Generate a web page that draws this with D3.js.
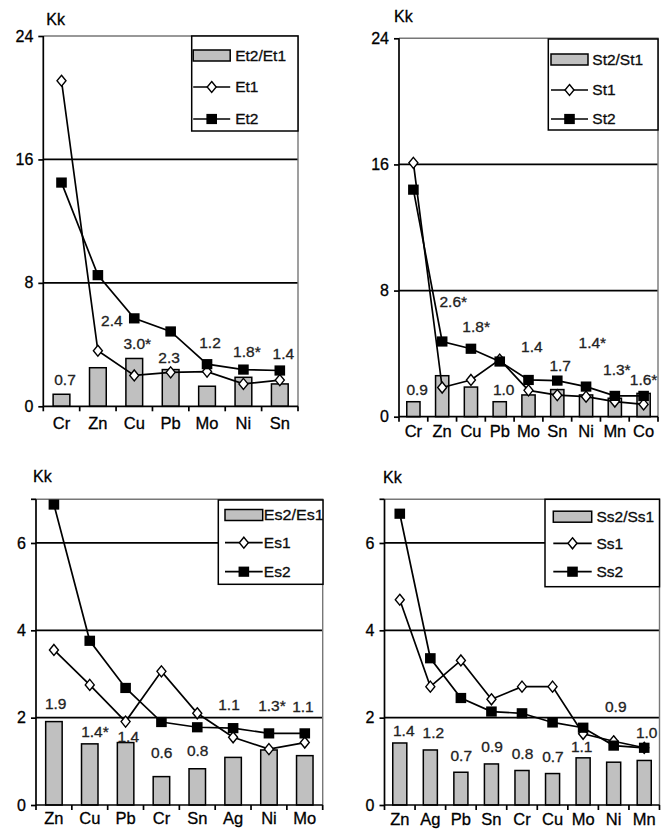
<!DOCTYPE html>
<html><head><meta charset="utf-8">
<script src="https://cdn.jsdelivr.net/npm/d3@7"></script>
<style>
body{margin:0;background:#fff}
svg{display:block}
text{font-family:"Liberation Sans",Arial,Helvetica,sans-serif;stroke:#000;stroke-width:0.3px}
</style>
</head><body>
<svg id="c" width="670" height="829"></svg>
<script>
// ---------- DATA ----------
// Panel 1 (top-left)
const p1Categories = ["Cr","Zn","Cu","Pb","Mo","Ni","Sn"];
const p1Ratio = [0.78, 2.5, 3.1, 2.38, 1.3, 1.88, 1.45];
const p1Series1 = [21.1, 3.6, 2.0, 2.2, 2.25, 1.45, 1.7];
const p1Series2 = [14.5, 8.5, 5.7, 4.85, 2.73, 2.38, 2.32];
const p1Labels = ["0.7","2.4","3.0*","2.3","1.2","1.8*","1.4"];
const p1LabelLevels = [1.71, 5.56, 4.09, 3.18, 4.13, 3.55, 3.44];
const p1Names = ["Et2/Et1","Et1","Et2"];
const p1Ticks = [0, 8, 16, 24];

// Panel 2 (top-right)
const p2Categories = ["Cr","Zn","Cu","Pb","Mo","Sn","Ni","Mn","Co"];
const p2Ratio = [0.95, 2.6, 1.88, 0.95, 1.38, 1.72, 1.38, 1.17, 1.48];
const p2Series1 = [16.1, 1.85, 2.33, 3.62, 1.67, 1.37, 1.27, 0.96, 0.78];
const p2Series2 = [14.4, 4.77, 4.31, 3.5, 2.33, 2.29, 1.91, 1.32, 1.32];
const p2Labels = ["0.9","2.6*","1.8*","1.0","1.4","1.7","1.4*","1.3*","1.6*"];
const p2LabelLevels = [1.74, 7.32, 5.73, 1.74, 4.46, 3.23, 4.67, 2.97, 2.34];
const p2Names = ["St2/St1","St1","St2"];
const p2Ticks = [0, 8, 16, 24];

// Panel 3 (bottom-left)
const p3Categories = ["Zn","Cu","Pb","Cr","Sn","Ag","Ni","Mo"];
const p3Ratio = [1.91, 1.4, 1.43, 0.65, 0.83, 1.09, 1.26, 1.13];
const p3Series1 = [3.55, 2.75, 1.91, 3.06, 2.1, 1.55, 1.28, 1.43];
const p3Series2 = [6.88, 3.76, 2.68, 1.9, 1.78, 1.76, 1.64, 1.64];
const p3Labels = ["1.9","1.4*","1.4","0.6","0.8","1.1","1.3*","1.1"];
const p3LabelLevels = [2.33, 1.68, 1.57, 1.19, 1.24, 2.31, 2.27, 2.25];
const p3Names = ["Es2/Es1","Es1","Es2"];
const p3Ticks = [0, 2, 4, 6];

// Panel 4 (bottom-right)
const p4Categories = ["Zn","Ag","Pb","Sn","Cr","Cu","Mo","Ni","Mn"];
const p4Ratio = [1.42, 1.26, 0.75, 0.94, 0.79, 0.72, 1.08, 0.98, 1.02];
const p4Series1 = [4.7, 2.71, 3.31, 2.42, 2.71, 2.71, 1.63, 1.46, 1.31];
const p4Series2 = [6.67, 3.36, 2.45, 2.14, 2.1, 1.89, 1.77, 1.36, 1.31];
const p4Labels = ["1.4","1.2","0.7","0.9","0.8","0.7","1.1","0.9","1.0"];
const p4LabelLevels = [1.70, 1.66, 1.13, 1.33, 1.18, 1.11, 1.33, 2.26, 1.66];
const p4Names = ["Ss2/Ss1","Ss1","Ss2"];
const p4Ticks = [0, 2, 4, 6];

const axisTitle = "Kk";

// ---------- LAYOUT ----------
const layouts = [
  {left:43.3, right:298, top:36, bottom:406.3, ymax:24, xPad:10.6,
   kk:[3,-11], labelDx:[3.5,14,3,-1.5,3,3.5,3.5],
   legend:{x:191.7,y:36,w:106.3,h:95,sx:1.5,sw:37,tx:43.5,rows:[19.5,51,83],first:null}},
  {left:399, right:658, top:38.3, bottom:416.7, ymax:24, xPad:8.6,
   kk:[-5,-16], labelDx:[3.8,11.1,5.2,4,3.4,2.9,6.3,2,0],
   legend:{x:548.3,y:39,w:109.7,h:91,sx:2.7,sw:37,tx:44,rows:[20.5,51,80],first:null}},
  {left:36, right:322.7, top:499.3, bottom:805, ymax:7, xPad:7.5,
   kk:[-3,-17], labelDx:[1.8,5.2,2.7,0.3,0.4,-4.1,3,-1.8],
   legend:{x:218.3,y:500,w:104.7,h:84.3,sx:6.7,sw:37.7,tx:45.5,rows:[15,42.7,71.7],first:60}},
  {left:384.5, right:659.5, top:499.3, bottom:805, ymax:7, xPad:8.6,
   kk:[-1.5,-16], labelDx:[4,3,0.4,0.7,0.5,0.4,-1.4,2.1,2.5],
   legend:{x:545,y:499.3,w:114.5,h:87.4,sx:8.3,sw:38.4,tx:51.5,rows:[17.4,44,72.4],first:null}}
];

const panels = [
  {cats:p1Categories, ratio:p1Ratio, s1:p1Series1, s2:p1Series2, labels:p1Labels, levels:p1LabelLevels, names:p1Names, ticks:p1Ticks},
  {cats:p2Categories, ratio:p2Ratio, s1:p2Series1, s2:p2Series2, labels:p2Labels, levels:p2LabelLevels, names:p2Names, ticks:p2Ticks},
  {cats:p3Categories, ratio:p3Ratio, s1:p3Series1, s2:p3Series2, labels:p3Labels, levels:p3LabelLevels, names:p3Names, ticks:p3Ticks},
  {cats:p4Categories, ratio:p4Ratio, s1:p4Series1, s2:p4Series2, labels:p4Labels, levels:p4LabelLevels, names:p4Names, ticks:p4Ticks}
];

const SW = 1.7;
const BAR_FILL = "#c0c0c0";
const svg = d3.select("#c");

function diamond(sel, cx, cy){
  sel.append("path")
    .attr("d", `M${cx},${cy-5.5}L${cx+4.5},${cy}L${cx},${cy+5.5}L${cx-4.5},${cy}Z`)
    .attr("fill","#fff").attr("stroke","#000").attr("stroke-width",1.4);
}
function square(sel, cx, cy){
  sel.append("rect").attr("x",cx-5.3).attr("y",cy-5.1).attr("width",10.6).attr("height",10.2)
    .attr("fill","#000");
}

panels.forEach((p, pi) => {
  const L = layouts[pi];
  const x = d3.scaleBand().domain(p.cats).range([L.left, L.right]);
  const y = d3.scaleLinear().domain([0, L.ymax]).range([L.bottom, L.top]);
  const cx = c => x(c) + x.bandwidth()/2;
  const g = svg.append("g");

  // gridlines
  g.selectAll("line.grid").data(p.ticks.filter(t => t > 0 && t < L.ymax)).join("line")
    .attr("class","grid")
    .attr("x1", L.left).attr("x2", L.right)
    .attr("y1", d => y(d)).attr("y2", d => y(d))
    .attr("stroke","#000").attr("stroke-width",SW);

  // top/right frame
  g.append("path")
    .attr("d", `M${L.left},${y(L.ymax)}H${L.right}V${y(0)}`)
    .attr("fill","none").attr("stroke","#777").attr("stroke-width",1.4);

  // bars
  const bw = x.bandwidth()*0.46;
  g.selectAll("rect.bar").data(p.ratio).join("rect")
    .attr("class","bar")
    .attr("x", (d,i) => cx(p.cats[i]) - bw/2)
    .attr("width", bw)
    .attr("y", d => y(d))
    .attr("height", d => y(0) - y(d))
    .attr("fill", BAR_FILL).attr("stroke","#000").attr("stroke-width",1.5);

  // lines
  const line = d3.line().x((d,i) => cx(p.cats[i])).y(d => y(d));
  g.append("path").datum(p.s1).attr("d", line)
    .attr("fill","none").attr("stroke","#000").attr("stroke-width",SW);
  const m1 = g.append("g");
  p.s1.forEach((v,i) => diamond(m1, cx(p.cats[i]), y(v)));
  g.append("path").datum(p.s2).attr("d", line)
    .attr("fill","none").attr("stroke","#000").attr("stroke-width",SW);
  const m2 = g.append("g");
  p.s2.forEach((v,i) => square(m2, cx(p.cats[i]), y(v)));

  // data labels
  g.selectAll("text.lab").data(p.labels).join("text")
    .attr("class","lab")
    .attr("x", (d,i) => cx(p.cats[i]) + L.labelDx[i])
    .attr("y", (d,i) => y(p.levels[i]))
    .attr("dy","0.35em")
    .attr("text-anchor","middle")
    .attr("font-size","15.5px")
    .attr("fill","#222").style("stroke","#222")
    .text(d => d);

  // legend
  const lg = L.legend;
  const clipId = "lclip" + pi;
  svg.append("clipPath").attr("id", clipId).append("rect")
    .attr("x", lg.x).attr("y", lg.y).attr("width", lg.w).attr("height", lg.h);
  const leg = g.append("g");
  leg.append("rect").attr("x", lg.x).attr("y", lg.y).attr("width", lg.w).attr("height", lg.h)
    .attr("fill","#fff").attr("stroke","none");
  const legIn = leg.append("g").attr("clip-path", `url(#${clipId})`);
  const sx0 = lg.x + lg.sx, sx1 = sx0 + lg.sw, smid = (sx0 + sx1)/2;
  legIn.append("rect").attr("x", sx0).attr("y", lg.y + lg.rows[0] - 5.5)
    .attr("width", lg.sw).attr("height", 11)
    .attr("fill", BAR_FILL).attr("stroke","#000").attr("stroke-width",1.5);
  [1,2].forEach(r => {
    const yy = lg.y + lg.rows[r];
    legIn.append("line").attr("x1", sx0).attr("x2", sx1).attr("y1", yy).attr("y2", yy)
      .attr("stroke","#000").attr("stroke-width",SW);
    if (r === 1) diamond(legIn, smid, yy); else square(legIn, smid, yy);
  });
  p.names.forEach((n, r) => {
    const t = legIn.append("text").attr("x", lg.x + lg.tx).attr("y", lg.y + lg.rows[r])
      .attr("dy","0.35em").attr("font-size","15.5px").attr("fill","#111").text(n);
    if (r === 0 && lg.first) t.attr("textLength", lg.first).attr("lengthAdjust","spacingAndGlyphs");
  });
  leg.append("rect").attr("x", lg.x).attr("y", lg.y).attr("width", lg.w).attr("height", lg.h)
    .attr("fill","none").attr("stroke","#000").attr("stroke-width",1.5);

  // y axis
  const ya = g.append("g").attr("transform", `translate(${L.left},0)`)
    .call(d3.axisLeft(y).tickValues(p.ticks).tickSize(5).tickPadding(5).tickSizeOuter(0).tickFormat(d3.format("d")));
  ya.select(".domain").attr("stroke","#000").attr("stroke-width",SW)
    .attr("d", `M0,${y(L.ymax)}V${y(0)}`);
  ya.selectAll(".tick line").attr("stroke","#000").attr("stroke-width",SW);
  ya.selectAll(".tick text").attr("font-size","16px").attr("fill","#000")
    .attr("font-family",'"Liberation Sans",Arial,sans-serif');
  if (!p.ticks.includes(L.ymax)) {
    ya.append("line").attr("x1",-5).attr("x2",0).attr("y1",y(L.ymax)).attr("y2",y(L.ymax))
      .attr("stroke","#000").attr("stroke-width",SW);
  }

  // x axis
  const xa = g.append("g").attr("transform", `translate(0,${y(0)})`)
    .call(d3.axisBottom(x).tickSize(0).tickPadding(L.xPad));
  xa.select(".domain").remove();
  xa.selectAll(".tick text").attr("font-size","16.5px").attr("fill","#000")
    .attr("font-family",'"Liberation Sans",Arial,sans-serif');
  xa.append("line").attr("x1", L.left).attr("x2", L.right).attr("y1",0).attr("y2",0)
    .attr("stroke","#000").attr("stroke-width",SW);
  const bounds = p.cats.map(c => x(c)).concat([x.range()[1]]);
  xa.selectAll("line.bt").data(bounds).join("line").attr("class","bt")
    .attr("x1", d => d).attr("x2", d => d).attr("y1",0).attr("y2",5)
    .attr("stroke","#000").attr("stroke-width",SW);

  // axis title
  g.append("text").attr("x", L.left + L.kk[0]).attr("y", L.top + L.kk[1])
    .attr("font-size","16px").attr("fill","#000").text(axisTitle);
});
</script>
</body></html>
